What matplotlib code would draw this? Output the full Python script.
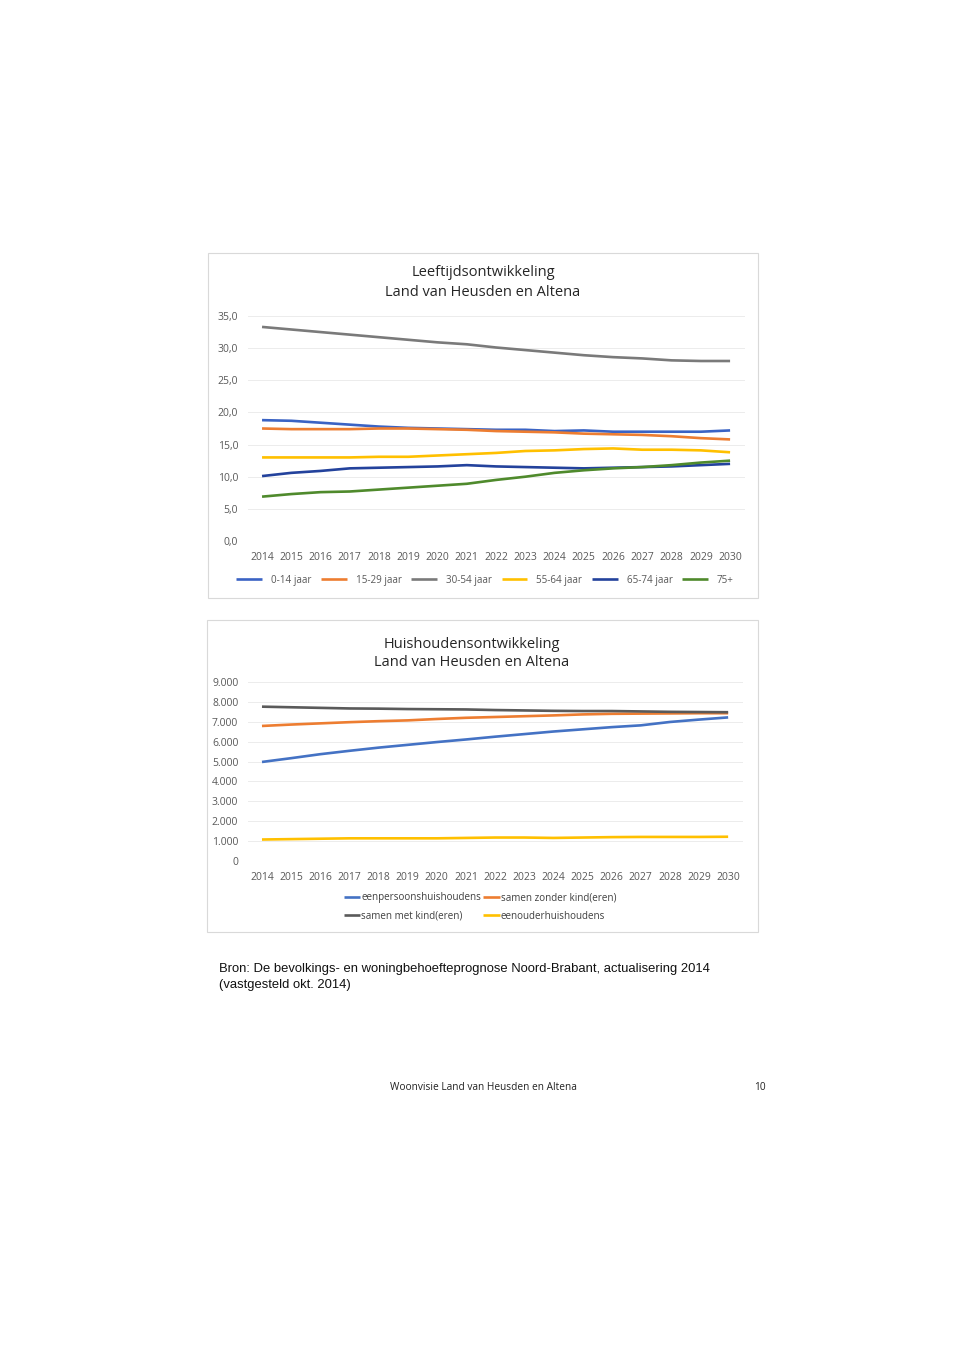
import matplotlib
matplotlib.use("Agg")
import matplotlib.pyplot as plt
from matplotlib.patches import Rectangle
from matplotlib.ticker import FuncFormatter

# ---------------- data ----------------
years = list(range(2014, 2031))

age_labels = ["0-14 jaar", "15-29 jaar", "30-54 jaar", "55-64 jaar", "65-74 jaar", "75+"]
age_0_14 = [18.8, 18.7, 18.4, 18.1, 17.8, 17.6, 17.5, 17.4, 17.3, 17.3, 17.1, 17.2, 17.0, 17.0, 17.0, 17.0, 17.2]
age_15_29 = [17.5, 17.4, 17.4, 17.4, 17.5, 17.5, 17.4, 17.3, 17.1, 17.0, 16.9, 16.7, 16.6, 16.5, 16.3, 16.0, 15.8]
age_30_54 = [33.3, 32.9, 32.5, 32.1, 31.7, 31.3, 30.9, 30.6, 30.1, 29.7, 29.3, 28.9, 28.6, 28.4, 28.1, 28.0, 28.0]
age_55_64 = [13.0, 13.0, 13.0, 13.0, 13.1, 13.1, 13.3, 13.5, 13.7, 14.0, 14.1, 14.3, 14.4, 14.2, 14.2, 14.1, 13.8]
age_65_74 = [10.1, 10.6, 10.9, 11.3, 11.4, 11.5, 11.6, 11.8, 11.6, 11.5, 11.4, 11.3, 11.4, 11.5, 11.6, 11.8, 12.0]
age_75plus = [6.9, 7.3, 7.6, 7.7, 8.0, 8.3, 8.6, 8.9, 9.5, 10.0, 10.6, 11.0, 11.3, 11.5, 11.8, 12.2, 12.5]
age_ticks = [0, 5, 10, 15, 20, 25, 30, 35]

hh_labels = ["eenpersoonshuishoudens", "samen zonder kind(eren)", "samen met kind(eren)", "eenouderhuishoudens"]
hh_eenpersoons = [4980, 5170, 5370, 5540, 5700, 5840, 5980, 6110, 6250, 6380, 6510, 6620, 6730, 6820, 6990, 7110, 7220]
hh_zonder_kind = [6790, 6860, 6920, 6980, 7030, 7070, 7140, 7200, 7240, 7280, 7320, 7370, 7400, 7410, 7420, 7430, 7430]
hh_met_kind = [7760, 7730, 7700, 7670, 7660, 7640, 7630, 7620, 7590, 7570, 7550, 7540, 7540, 7520, 7500, 7490, 7480]
hh_eenouder = [1080, 1100, 1120, 1140, 1140, 1140, 1140, 1160, 1180, 1180, 1160, 1180, 1200, 1210, 1210, 1210, 1220]
hh_ticks = [0, 1000, 2000, 3000, 4000, 5000, 6000, 7000, 8000, 9000]

# ---------------- figure ----------------
W, H = 960, 1347
fig = plt.figure(figsize=(W / 100, H / 100), dpi=100)
fig.patch.set_facecolor("white")
FONT = ["Open Sans", "DejaVu Sans"]
plt.rcParams["font.family"] = FONT

def px_axes(x0, y0, x1, y1):
    return fig.add_axes([x0 / W, 1 - y1 / H, (x1 - x0) / W, (y1 - y0) / H])

def box(x0, y0, x1, y1):
    fig.patches.append(Rectangle((x0 / W, 1 - y1 / H), (x1 - x0) / W, (y1 - y0) / H,
                                 transform=fig.transFigure, fill=False,
                                 edgecolor="#d9d9d9", linewidth=0.8))

TICK_COLOR = "#595959"

def style_axes(ax):
    for s in ax.spines.values():
        s.set_visible(False)
    ax.tick_params(axis="both", length=0, labelsize=7.5, colors=TICK_COLOR)
    ax.tick_params(axis="x", pad=8)
    ax.tick_params(axis="y", pad=7)
    ax.grid(axis="y", color="#ececec", linewidth=0.7)
    ax.set_axisbelow(True)
    ax.set_xticks(years)
    ax.set_xlim(2013.52, 2030.51)

# ---------------- chart 1 ----------------
box(208, 253, 758, 598)
ax1 = px_axes(248, 316, 745, 541)
style_axes(ax1)
age_series = [age_0_14, age_15_29, age_30_54, age_55_64, age_65_74, age_75plus]
age_colors = ["#3a63c4", "#ed7d31", "#7a7a7a", "#ffc000", "#23429c", "#4f8a2c"]
handles1 = []
for vals, col, lab in zip(age_series, age_colors, age_labels):
    h, = ax1.plot(years, vals, color=col, linewidth=1.9, label=lab, solid_capstyle="butt")
    handles1.append(h)
ax1.set_ylim(0, 35)
ax1.set_yticks(age_ticks)
ax1.yaxis.set_major_formatter(FuncFormatter(lambda v, p: f"{v:.1f}".replace(".", ",")))
fig.text(483 / W, 1 - 272 / H, "Leeftijdsontwikkeling", ha="center", va="center",
         fontsize=10.5, color="#262626")
fig.text(483 / W, 1 - 292 / H, "Land van Heusden en Altena", ha="center", va="center",
         fontsize=10.5, color="#262626")
fig.legend(handles=handles1, labels=age_labels, loc="center", ncol=6,
           bbox_to_anchor=(485 / W, 1 - 580 / H), frameon=False,
           fontsize=7.1, labelcolor=TICK_COLOR, handlelength=2.6, handletextpad=0.9,
           columnspacing=1.0)

# ---------------- chart 2 ----------------
box(207, 620, 758, 932)
ax2 = px_axes(248, 682, 743, 861)
style_axes(ax2)
hh_series = [hh_eenpersoons, hh_zonder_kind, hh_met_kind, hh_eenouder]
hh_colors = ["#4472c4", "#ed7d31", "#5a5a5a", "#ffc000"]
handles2 = []
for vals, col, lab in zip(hh_series, hh_colors, hh_labels):
    h, = ax2.plot(years, vals, color=col, linewidth=1.9, label=lab, solid_capstyle="butt")
    handles2.append(h)
ax2.set_ylim(0, 9000)
ax2.set_yticks(hh_ticks)
ax2.yaxis.set_major_formatter(FuncFormatter(
    lambda v, p: "0" if v == 0 else f"{int(v):,}".replace(",", ".")))
fig.text(472 / W, 1 - 644 / H, "Huishoudensontwikkeling", ha="center", va="center",
         fontsize=10.5, color="#262626")
fig.text(472 / W, 1 - 663 / H, "Land van Heusden en Altena", ha="center", va="center",
         fontsize=10.5, color="#262626")
order = [0, 2, 1, 3]
fig.legend(handles=[handles2[i] for i in order], labels=[hh_labels[i] for i in order],
           loc="center", ncol=2, bbox_to_anchor=(480 / W, 1 - 907 / H), frameon=False,
           fontsize=7.1, labelcolor="#404040", handlelength=1.7, handletextpad=0.1,
           columnspacing=0.2, labelspacing=0.75)

# ---------------- page text ----------------
fig.text(219 / W, 1 - 969 / H, "Bron: De bevolkings- en woningbehoefteprognose Noord-Brabant, actualisering 2014",
         ha="left", va="center", fontsize=9.4, family=["Liberation Sans", "DejaVu Sans"], color="#111111")
fig.text(219 / W, 1 - 985 / H, "(vastgesteld okt. 2014)",
         ha="left", va="center", fontsize=9.4, family=["Liberation Sans", "DejaVu Sans"], color="#111111")
fig.text(483 / W, 1 - 1088 / H, "Woonvisie Land van Heusden en Altena", ha="center", va="center",
         fontsize=7.3, color="#222222")
fig.text(760 / W, 1 - 1088 / H, "10", ha="center", va="center", fontsize=7.3, color="#222222")

fig.savefig("out.png", dpi=100, facecolor="white")
